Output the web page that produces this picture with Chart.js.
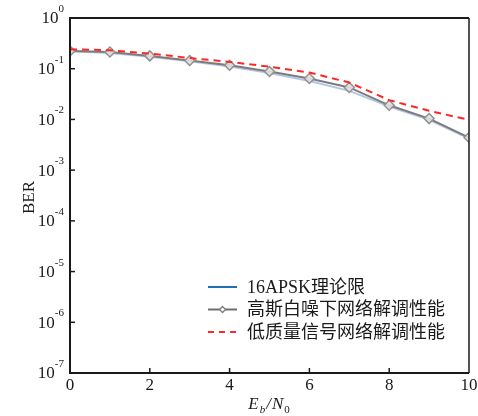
<!DOCTYPE html>
<html>
<head>
<meta charset="utf-8">
<script src="https://cdn.jsdelivr.net/npm/chart.js@4/dist/chart.umd.min.js"></script>
<style>
  html, body { margin: 0; padding: 0; background: #fff; }
  #wrap { width: 478px; height: 416px; }
</style>
</head>
<body>
<div id="wrap"><canvas id="berChart" width="478" height="416"></canvas></div>
<script>
// ── BER 曲線：16APSK 理論限 / 高斯白噪下 / 低質量信號 ──
const ebn0 = [0, 1, 2, 3, 4, 5, 6, 7, 8, 9, 10];
const berTheory = [0.220, 0.205, 0.172, 0.140, 0.111, 0.082, 0.057, 0.0366, 0.0180, 0.0098, 0.0042];
const berGauss  = [0.224, 0.214, 0.179, 0.145, 0.117, 0.088, 0.064, 0.0427, 0.0190, 0.0104, 0.0044];
const berLowQ   = [0.242, 0.231, 0.199, 0.163, 0.136, 0.110, 0.084, 0.0535, 0.0240, 0.0148, 0.0098];

const xTicks = [0, 2, 4, 6, 8, 10];
const yExps = [0, -1, -2, -3, -4, -5, -6, -7];

const legendNames = ['16APSK理论限', '高斯白噪下网络解调性能', '低质量信号网络解调性能'];

const serif = '"Liberation Serif", "Noto Sans CJK SC", serif';

// 坐標框、刻度、刻度標籤（上標）、軸標題、圖例
const axesPlugin = {
  id: 'berAxes',
  afterDraw(chart) {
    const { ctx, chartArea: a, scales: { x, y } } = chart;
    ctx.save();
    ctx.strokeStyle = '#1a1a1a';
    ctx.fillStyle = '#1a1a1a';

    // 框
    ctx.lineWidth = 2;
    ctx.beginPath();
    ctx.moveTo(a.right, a.top);
    ctx.lineTo(a.left, a.top);
    ctx.lineTo(a.left, a.bottom);
    ctx.lineTo(a.right, a.bottom);
    ctx.stroke();
    ctx.lineWidth = 1.5;
    ctx.beginPath();
    ctx.moveTo(a.right, a.top);
    ctx.lineTo(a.right, a.bottom);
    ctx.stroke();

    // x 刻度
    ctx.lineWidth = 1.5;
    ctx.font = '17px ' + serif;
    ctx.textAlign = 'center';
    ctx.textBaseline = 'middle';
    xTicks.forEach(v => {
      const px = x.getPixelForValue(v);
      if (v !== 0 && v !== 10) {
        ctx.beginPath();
        ctx.moveTo(px, a.bottom);
        ctx.lineTo(px, a.bottom - 5);
        ctx.stroke();
      }
      ctx.fillText(String(v), px, a.bottom + 13);
    });

    // y 刻度 10^n
    yExps.forEach(e => {
      const py = y.getPixelForValue(Math.pow(10, e));
      if (e !== 0 && e !== -7) {
        ctx.beginPath();
        ctx.moveTo(a.left, py);
        ctx.lineTo(a.left + 5, py);
        ctx.stroke();
      }
      const sup = String(e);
      ctx.font = '11px ' + serif;
      const sw = ctx.measureText(sup).width;
      ctx.textAlign = 'left';
      ctx.textBaseline = 'alphabetic';
      ctx.fillText(sup, a.left - 6 - sw, py - 6);
      ctx.font = '17px ' + serif;
      ctx.textAlign = 'right';
      ctx.textBaseline = 'middle';
      ctx.fillText('10', a.left - 6 - sw, py + 1);
    });

    // y 軸標題
    ctx.save();
    ctx.translate(30, (a.top + a.bottom) / 2 + 2);
    ctx.rotate(-Math.PI / 2);
    ctx.font = '17px ' + serif;
    ctx.textAlign = 'center';
    ctx.textBaseline = 'middle';
    ctx.fillText('BER', 0, 0);
    ctx.restore();

    // x 軸標題 E_b/N_0
    const cx = (a.left + a.right) / 2;
    const by = a.bottom + 36;
    ctx.textBaseline = 'alphabetic';
    ctx.textAlign = 'left';
    const parts = [
      ['E', 'italic 17px ' + serif, 0],
      ['b', 'italic 11px ' + serif, 4],
      ['/', 'italic 17px ' + serif, 0],
      ['N', 'italic 17px ' + serif, 0],
      ['0', '11px ' + serif, 4]
    ];
    let tw = 0;
    parts.forEach(p => { ctx.font = p[1]; tw += ctx.measureText(p[0]).width + 1; });
    let tx = cx - tw / 2;
    parts.forEach(p => {
      ctx.font = p[1];
      ctx.fillText(p[0], tx, by + p[2]);
      tx += ctx.measureText(p[0]).width + 1;
    });

    // 圖例
    const lx = 208, lw = 29, ly = [287, 309.5, 332];
    ctx.font = '18px ' + serif;
    ctx.textAlign = 'left';
    ctx.textBaseline = 'middle';
    // 16APSK
    ctx.strokeStyle = '#1f6fb5';
    ctx.lineWidth = 2;
    ctx.beginPath(); ctx.moveTo(lx, ly[0]); ctx.lineTo(lx + lw, ly[0]); ctx.stroke();
    // 高斯
    ctx.strokeStyle = '#6e6e6e';
    ctx.beginPath(); ctx.moveTo(lx, ly[1]); ctx.lineTo(lx + lw, ly[1]); ctx.stroke();
    ctx.fillStyle = '#ffffff';
    ctx.strokeStyle = '#7a7a7a';
    ctx.lineWidth = 1.3;
    ctx.beginPath();
    const mx = lx + lw / 2, r = 3;
    ctx.moveTo(mx, ly[1] - r); ctx.lineTo(mx + r, ly[1]); ctx.lineTo(mx, ly[1] + r); ctx.lineTo(mx - r, ly[1]); ctx.closePath();
    ctx.fill(); ctx.stroke();
    // 低質量
    ctx.strokeStyle = '#ff2a2a';
    ctx.lineWidth = 2;
    ctx.setLineDash([6, 5]);
    ctx.beginPath(); ctx.moveTo(lx, ly[2]); ctx.lineTo(lx + lw, ly[2]); ctx.stroke();
    ctx.setLineDash([]);

    ctx.fillStyle = '#1a1a1a';
    legendNames.forEach((t, i) => ctx.fillText(t, 247, ly[i] + 1));

    ctx.restore();
  }
};

new Chart(document.getElementById('berChart'), {
  type: 'line',
  data: {
    labels: ebn0,
    datasets: [
      {
        label: legendNames[0],
        data: ebn0.map((v, i) => ({ x: v, y: berTheory[i] })),
        borderColor: 'rgba(120,150,210,0.55)',
        borderWidth: 2,
        pointRadius: 0,
        tension: 0,
        order: 2
      },
      {
        label: legendNames[1],
        data: ebn0.map((v, i) => ({ x: v, y: berGauss[i] })),
        borderColor: '#7c7c7c',
        borderWidth: 2,
        pointStyle: 'rectRot',
        pointRadius: 5,
        pointBorderWidth: 1.5,
        pointBorderColor: '#909090',
        pointBackgroundColor: 'rgba(225,225,225,0.9)',
        tension: 0,
        order: 1
      },
      {
        label: legendNames[2],
        data: ebn0.map((v, i) => ({ x: v, y: berLowQ[i] })),
        borderColor: '#ff2626',
        borderWidth: 2,
        borderDash: [7, 5],
        pointRadius: 0,
        tension: 0,
        order: 0
      }
    ]
  },
  options: {
    responsive: false,
    animation: false,
    layout: { padding: { left: 70, top: 18, right: 9, bottom: 43 } },
    plugins: {
      legend: { display: false },
      tooltip: { enabled: false }
    },
    scales: {
      x: { type: 'linear', min: 0, max: 10, display: false },
      y: { type: 'logarithmic', min: 1e-7, max: 1, display: false }
    }
  },
  plugins: [axesPlugin]
});
</script>
</body>
</html>
